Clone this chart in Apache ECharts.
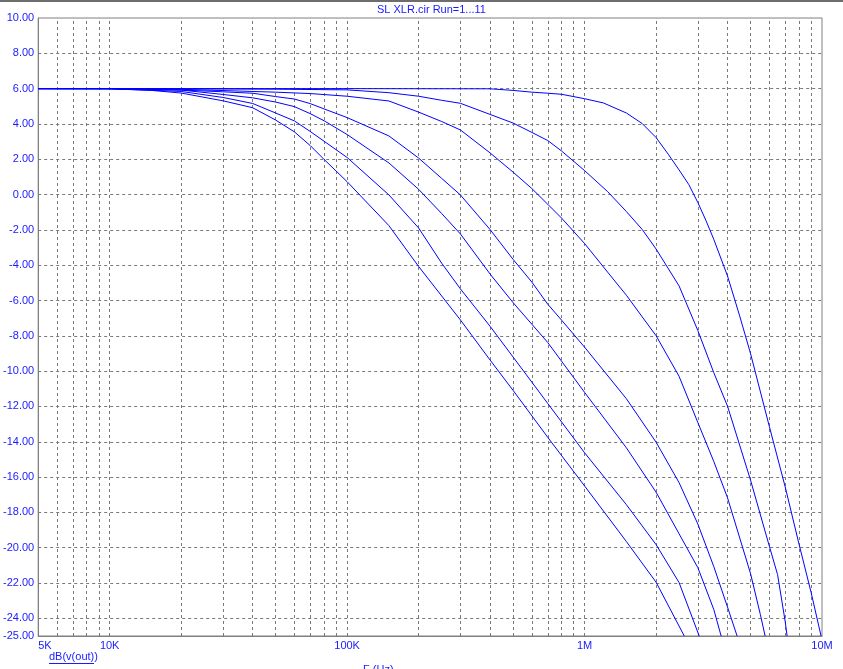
<!DOCTYPE html>
<html><head><meta charset="utf-8">
<script src="https://cdn.jsdelivr.net/npm/echarts@6/dist/echarts.min.js"></script>
<style>
html,body{margin:0;padding:0;background:#fff;}
#c{width:843px;height:669px;}
#frame{position:absolute;left:0;top:0;width:843px;height:2px;background:#6d6d6d;}
</style>
</head><body><div id="c"></div><div id="frame"></div>
<script>
// ---- data (frequency in Hz, magnitude in dB) ----
const chartTitle = 'SL XLR.cir Run=1...11';
const yAxisName = 'dB(v(out))';
const xAxisName = 'F (Hz)';

const xTickValues = [5e3, 1e4, 1e5, 1e6, 1e7];
const xTickLabels = ['5K', '10K', '100K', '1M', '10M'];
const yTickValues = [10, 8, 6, 4, 2, 0, -2, -4, -6, -8, -10, -12, -14, -16, -18, -20, -22, -24, -25];
const xGridValues = [6e3,7e3,8e3,9e3,1e4,2e4,3e4,4e4,5e4,6e4,7e4,8e4,9e4,1e5,2e5,3e5,4e5,5e5,6e5,7e5,8e5,9e5,1e6,2e6,3e6,4e6,5e6,6e6,7e6,8e6,9e6];
const yGridValues = [8, 6, 4, 2, 0, -2, -4, -6, -8, -10, -12, -14, -16, -18, -20, -22, -24];

const run1Freq = [5e3,1e4,1.5e4,2e4,3e4,4e4,5e4,6e4,7e4,8e4,1e5,1.5e5,2e5,3e5,4e5,5e5,7e5,1e6,1.5e6,2e6,2.63e6];
const run1Db   = [6.0,5.99,5.9,5.75,5.31,4.92,4.22,3.55,2.77,1.99,0.73,-1.76,-4.07,-7.10,-9.37,-11.09,-13.75,-16.5,-19.65,-21.95,-25];

const run2Freq = [5e3,1e4,2e4,3e4,4e4,5e4,6e4,7e4,8e4,1e5,1.5e5,2e5,2.5e5,3e5,4e5,5e5,7e5,1e6,1.5e6,2e6,2.5e6,3.04e6];
const run2Db   = [6.0,6.0,5.84,5.50,5.16,4.62,4.17,3.57,3.02,2.10,-0.02,-1.89,-3.88,-5.34,-7.46,-9.20,-11.83,-14.62,-17.56,-19.82,-21.97,-25];

const run3Freq = [5e3,1e4,2e4,3e4,4e4,5e4,6e4,7e4,8e4,1e5,1.5e5,2e5,2.5e5,3e5,4e5,5e5,7e5,1e6,1.5e6,2e6,2.5e6,3e6,3.5e6,3.76e6];
const run3Db   = [6.0,6.0,5.92,5.67,5.48,5.24,4.98,4.58,4.18,3.40,1.79,0.30,-1.07,-2.23,-4.50,-6.12,-8.38,-11.20,-14.34,-16.85,-19.21,-21.13,-23.49,-25];

const run4Freq = [5e3,1e4,2e4,3e4,4e4,5e4,6e4,7e4,8e4,1e5,1.5e5,2e5,2.5e5,3e5,4e5,5e5,6e5,7e5,8e5,1e6,1.5e6,2e6,2.5e6,3e6,3.5e6,4e6,4.39e6];
const run4Db   = [6.0,5.99,5.92,5.82,5.74,5.55,5.41,5.15,4.85,4.36,3.32,2.07,0.92,-0.02,-1.98,-3.67,-4.96,-6.21,-7.11,-8.64,-11.56,-14.02,-16.31,-18.66,-21.06,-23.36,-25];

const run5Freq = [5e3,1e4,2e4,3e4,5e4,7e4,1e5,1.5e5,2e5,2.5e5,3e5,4e5,5e5,6e5,7e5,8e5,1e6,1.25e6,1.5e6,1.75e6,2e6,2.5e6,3e6,3.5e6,4e6,5e6,5.5e6,5.76e6];
const run5Db   = [6.0,6.0,5.96,5.89,5.80,5.72,5.57,5.30,4.67,4.14,3.66,2.36,1.27,0.34,-0.55,-1.33,-2.77,-4.39,-5.70,-6.93,-7.99,-10.29,-12.91,-15.11,-17.17,-21.46,-23.78,-25];

const run6Freq = [5e3,1e4,2e4,5e4,1e5,1.5e5,2e5,2.5e5,3e5,4e5,5e5,6e5,7e5,8e5,1e6,1.25e6,1.5e6,1.75e6,2e6,2.5e6,3e6,3.5e6,4e6,5e6,6e6,6.5e6,7e6,7.13e6];
const run6Db   = [6.0,6.0,5.99,5.97,5.93,5.77,5.57,5.34,5.17,4.54,4.05,3.52,3.06,2.47,1.36,0.17,-0.96,-1.98,-3.08,-5.17,-7.70,-10.08,-11.98,-16.17,-19.91,-21.52,-24.19,-25];

const run7Freq = [5e3,1e4,1e5,4e5,5e5,6e5,7e5,8e5,1e6,1.2e6,1.5e6,1.75e6,2e6,2.25e6,2.5e6,2.75e6,3e6,3.25e6,3.5e6,4e6,4.5e6,5e6,6e6,7e6,8e6,9e6,9.91e6];
const run7Db   = [6.0,6.0,6.0,5.99,5.9,5.80,5.74,5.68,5.43,5.19,4.62,4.02,3.23,2.29,1.40,0.56,-0.45,-1.49,-2.53,-4.61,-6.87,-9.0,-13.13,-16.56,-19.79,-22.54,-25];

const runs = [
  [run1Freq, run1Db], [run2Freq, run2Db], [run3Freq, run3Db], [run4Freq, run4Db],
  [run5Freq, run5Db], [run6Freq, run6Db], [run7Freq, run7Db]
];

// ---- chart ----
const blue = '#0000ff';
const txtBlue = '#1a1aff';
const chart = echarts.init(document.getElementById('c'), null, {renderer: 'canvas'});

const curveSeries = runs.map(function (r, i) {
  return {
    type: 'line',
    name: 'Run ' + (i + 1),
    data: r[0].map(function (f, k) { return [f, r[1][k]]; }),
    showSymbol: false,
    smooth: false,
    lineStyle: {color: blue, width: 1},
    silent: true,
    z: 5
  };
});

const gridSeries = {
  type: 'line',
  name: 'grid',
  data: [],
  showSymbol: false,
  silent: true,
  z: 1,
  markLine: {
    silent: true,
    symbol: 'none',
    animation: false,
    label: {show: false},
    emphasis: {disabled: true},
    lineStyle: {color: '#7a7a7a', type: [3, 3], width: 1},
    data: xGridValues.map(function (v) { return {xAxis: v}; })
      .concat(yGridValues.map(function (v) { return {yAxis: v}; }))
  }
};

const option = {
  animation: false,
  backgroundColor: '#ffffff',
  grid: {
    left: 37, right: 21, top: 18, bottom: 33,
    show: true, borderColor: '#808080', borderWidth: 1, backgroundColor: 'transparent'
  },
  xAxis: {
    type: 'log',
    logBase: 10,
    min: 5e3,
    max: 1e7,
    axisLine: {show: true, onZero: false, lineStyle: {color: '#808080', width: 1}},
    axisTick: {show: false},
    splitLine: {show: false},
    minorSplitLine: {show: false},
    axisLabel: {
      customValues: xTickValues,
      color: txtBlue,
      fontFamily: 'Liberation Sans, Arial, sans-serif',
      fontSize: 11,
      margin: 4,
      alignMinLabel: 'left',
      formatter: function (v) {
        for (let i = 0; i < xTickValues.length; i++) {
          if (Math.abs(v - xTickValues[i]) / xTickValues[i] < 1e-6) return xTickLabels[i];
        }
        return '';
      }
    }
  },
  yAxis: {
    type: 'value',
    min: -25,
    max: 10,
    axisLine: {show: true, onZero: false, lineStyle: {color: '#808080', width: 1}},
    axisTick: {show: false},
    splitLine: {show: false},
    axisLabel: {
      customValues: yTickValues,
      color: txtBlue,
      fontFamily: 'Liberation Sans, Arial, sans-serif',
      fontSize: 11,
      margin: 4,
      formatter: function (v) { return Number(v).toFixed(2); }
    }
  },
  graphic: [
    {type: 'text', left: 429 - 52, top: 4, silent: true,
     style: {text: chartTitle, fill: txtBlue, font: '11px "Liberation Sans", Arial, sans-serif'}},
    {type: 'text', left: 49, top: 651, silent: true,
     style: {text: yAxisName, fill: txtBlue, font: '11px "Liberation Sans", Arial, sans-serif'}},
    {type: 'line', silent: true, shape: {x1: 49, y1: 663.5, x2: 94, y2: 663.5},
     style: {stroke: txtBlue, lineWidth: 1}},
    {type: 'text', left: 363, top: 664, silent: true,
     style: {text: xAxisName, fill: txtBlue, font: '11px "Liberation Sans", Arial, sans-serif'}}
  ],
  series: [gridSeries].concat(curveSeries)
};
chart.setOption(option);
</script></body></html>
